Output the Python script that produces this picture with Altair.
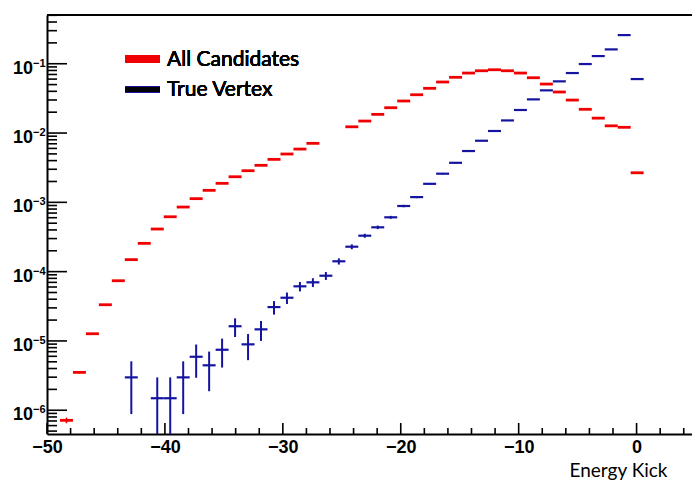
import altair as alt
import pandas as pd

# ---------------- data ----------------
# histogram bins (width 1.1, 50 bins over [-50, 5]); centres of bins 1..45
bin_centers = [-48.35, -47.25, -46.15, -45.05, -43.95, -42.85, -41.75, -40.65, -39.55, -38.45,
               -37.35, -36.25, -35.15, -34.05, -32.95, -31.85, -30.75, -29.65, -28.55, -27.45,
               -26.35, -25.25, -24.15, -23.05, -21.95, -20.85, -19.75, -18.65, -17.55, -16.45,
               -15.35, -14.25, -13.15, -12.05, -10.95, -9.85, -8.75, -7.65, -6.55, -5.45,
               -4.35, -3.25, -2.15, -1.05, 0.05]
bin_width = 1.1

all_candidates = [7.15e-7, 3.52e-6, 1.27e-5, 3.33e-5, 7.39e-5, 1.49e-4, 2.56e-4, 4.12e-4, 6.19e-4, 8.55e-4,
                  1.13e-3, 1.49e-3, 1.88e-3, 2.34e-3, 2.86e-3, 3.42e-3, 4.17e-3, 4.98e-3, 5.87e-3, 7.10e-3,
                  None, None, 1.23e-2, 1.49e-2, 1.86e-2, 2.32e-2, 2.90e-2, 3.57e-2, 4.42e-2, 5.45e-2,
                  6.37e-2, 7.34e-2, 7.92e-2, 8.19e-2, 7.92e-2, 7.34e-2, 6.28e-2, 5.09e-2, 3.91e-2, 2.99e-2,
                  2.20e-2, 1.64e-2, 1.27e-2, 1.21e-2, 2.67e-3]
all_candidates_err = [6.7e-8, 1.5e-7, 2.8e-7, 4.6e-7, 6.8e-7, 9.7e-7, 1.27e-6, 1.6e-6, 2.0e-6, 2.3e-6,
                      2.7e-6, 3.1e-6, 3.4e-6, 3.8e-6, 4.2e-6, 4.6e-6, 5.1e-6, 5.6e-6, 6.1e-6, 6.7e-6,
                      None, None, 8.8e-6, 9.7e-6, 1.08e-5, 1.2e-5, 1.35e-5, 1.5e-5, 1.67e-5, 1.85e-5,
                      2.0e-5, 2.15e-5, 2.23e-5, 2.27e-5, 2.23e-5, 2.15e-5, 1.99e-5, 1.79e-5, 1.57e-5, 1.37e-5,
                      1.18e-5, 1.02e-5, 8.9e-6, 8.7e-6, 4.1e-6]

true_vertex = [None, None, None, None, None, 2.98e-6, None, 1.49e-6, 1.49e-6, 2.98e-6,
               5.91e-6, 4.45e-6, 7.46e-6, 1.63e-5, 8.93e-6, 1.47e-5, 3.08e-5, 4.20e-5, 6.14e-5, 7.01e-5,
               8.73e-5, 1.41e-4, 2.29e-4, 3.30e-4, 4.36e-4, 6.08e-4, 8.85e-4, 1.19e-3, 1.85e-3, 2.59e-3,
               3.72e-3, 5.50e-3, 7.74e-3, 1.07e-2, 1.52e-2, 2.15e-2, 3.06e-2, 4.13e-2, 5.57e-2, 7.34e-2,
               9.90e-2, 0.129, 0.161, 0.259, 6.01e-2]
true_vertex_err = [None, None, None, None, None, 2.1e-6, None, 1.49e-6, 1.49e-6, 2.1e-6,
                   2.97e-6, 2.57e-6, 3.33e-6, 4.9e-6, 3.65e-6, 4.7e-6, 6.8e-6, 7.9e-6, 9.6e-6, 1.02e-5,
                   1.14e-5, 1.45e-5, 1.85e-5, 2.2e-5, 2.55e-5, 3.0e-5, 3.6e-5, 4.2e-5, 5.2e-5, 6.2e-5,
                   7.4e-5, 9.0e-5, 1.07e-4, 1.26e-4, 1.5e-4, 1.8e-4, 2.1e-4, 2.5e-4, 2.9e-4, 3.3e-4,
                   3.8e-4, 4.4e-4, 4.9e-4, 6.2e-4, 3.0e-4]

x_major = [-50, -40, -30, -20, -10, 0]
x_minor = [-48, -46, -44, -42, -38, -36, -34, -32, -28, -26, -24, -22, -18, -16, -14, -12,
           -8, -6, -4, -2, 2, 4]
y_decades = [1e-6, 1e-5, 1e-4, 1e-3, 1e-2, 1e-1]
y_exponents = ["\u22126", "\u22125", "\u22124", "\u22123", "\u22122", "\u22121"]
y_minor = [m * d for d in [1e-7, 1e-6, 1e-5, 1e-4, 1e-3, 1e-2, 1e-1] for m in range(2, 10)
           if 4.6e-7 < m * d <= 0.5]

series_names = ["All Candidates", "True Vertex"]
red = "#f00000"
blue = "#1414a0"

X_DOMAIN = [-50, 4.7]
Y_DOMAIN = [4.54e-7, 0.505]
W, H = 645, 419
NUM_FONT = "Liberation Sans Narrow, Liberation Sans, Arial, sans-serif"
TXT_FONT = "Lato, Open Sans, sans-serif"

xs = alt.Scale(domain=X_DOMAIN, nice=False, zero=False)
ys = alt.Scale(type="log", domain=Y_DOMAIN, nice=False)
xaxis = alt.Axis(values=x_major, ticks=False, grid=False, domain=True, domainColor="black",
                 domainWidth=2, labelFont=NUM_FONT, labelFontSize=18, labelFontWeight="bold",
                 labelColor="black", labelPadding=4, labelOverlap=False, labelFlush=False,
                 title="Energy Kick", titleFont=TXT_FONT, titleFontSize=19, titleFontWeight="normal",
                 titleColor="black", titleAnchor="end", titleAlign="right", titleX=620, titleY=36,
                 titleBaseline="middle")
yaxis = alt.Axis(ticks=False, labels=False, grid=False, domain=True, domainColor="black",
                 domainWidth=2, title=None)


def X(f):
    return alt.X(f, type="quantitative", scale=xs, axis=xaxis)


def Y(f):
    return alt.Y(f, type="quantitative", scale=ys, axis=yaxis)


def series_df(vals, errs):
    rows = []
    for c, v, e in zip(bin_centers, vals, errs):
        if v is None:
            continue
        rows.append(dict(c=c, lo=c - bin_width / 2, hi=c + bin_width / 2, v=v,
                         elo=max(v - e, 1e-9), ehi=v + e))
    return pd.DataFrame(rows)


red_df = series_df(all_candidates, all_candidates_err)
blue_df = series_df(true_vertex, true_vertex_err)

layers = []
for df, col, sw, ew in [(red_df, red, 2.8, 1.5), (blue_df, blue, 2.2, 2.0)]:
    layers.append(alt.Chart(df).mark_rule(color=col, strokeWidth=sw, clip=True).encode(
        x=X("lo"), x2="hi", y=Y("v")))
    layers.append(alt.Chart(df).mark_rule(color=col, strokeWidth=ew, clip=True).encode(
        x=X("c"), y=Y("elo"), y2="ehi"))

# inward ticks (ROOT style)
ymaj = pd.DataFrame({"v": y_decades, "e": y_exponents})
ymin = pd.DataFrame({"v": y_minor})
xmaj = pd.DataFrame({"v": x_major})
xmin = pd.DataFrame({"v": x_minor})
layers.append(alt.Chart(ymaj).mark_rule(color="black", strokeWidth=1.6).encode(
    y=Y("v"), x=alt.value(0), x2=alt.value(20)))
layers.append(alt.Chart(ymin).mark_rule(color="black", strokeWidth=1.6).encode(
    y=Y("v"), x=alt.value(0), x2=alt.value(10)))
layers.append(alt.Chart(xmaj).mark_rule(color="black", strokeWidth=1.6).encode(
    x=X("v"), y=alt.value(H), y2=alt.value(H - 11)))
layers.append(alt.Chart(xmin).mark_rule(color="black", strokeWidth=1.6).encode(
    x=X("v"), y=alt.value(H), y2=alt.value(H - 6)))
# y labels 10^{e}
layers.append(alt.Chart(ymaj).mark_text(align="right", baseline="alphabetic", dy=10, font=NUM_FONT,
                                        fontSize=18, fontWeight="bold", color="black").encode(
    y=Y("v"), x=alt.value(-14), text=alt.value("10")))
layers.append(alt.Chart(ymaj).mark_text(align="left", baseline="alphabetic", dy=3, font=NUM_FONT,
                                        fontSize=11, fontWeight="bold", color="black").encode(
    y=Y("v"), x=alt.value(-14), text="e:N"))
# top frame line
layers.append(alt.Chart(xmaj).mark_rule(color="black", strokeWidth=2).encode(
    x=alt.value(0), x2=alt.value(W), y=alt.value(0)))

# legend
layers.append(alt.Chart(xmaj).mark_rule(color=red, strokeWidth=7).encode(
    x=alt.value(78), x2=alt.value(113), y=alt.value(44)))
layers.append(alt.Chart(xmaj).mark_rule(color=blue, strokeWidth=7).encode(
    x=alt.value(78), x2=alt.value(113), y=alt.value(74.5)))
layers.append(alt.Chart(xmaj).mark_rule(color="black", strokeWidth=4).encode(
    x=alt.value(78.5), x2=alt.value(112.5), y=alt.value(74.5)))
layers.append(alt.Chart(xmaj).mark_text(align="left", baseline="middle", font=TXT_FONT, fontSize=21,
                                        color="black", text=series_names[0]).encode(
    x=alt.value(120), y=alt.value(45)))
layers.append(alt.Chart(xmaj).mark_text(align="left", baseline="middle", font=TXT_FONT, fontSize=21,
                                        color="black", text=series_names[1]).encode(
    x=alt.value(120), y=alt.value(75)))

chart = alt.layer(*layers).properties(
    width=W, height=H, background="white",
    autosize=alt.AutoSizeParams(type="none"),
    padding={"left": 47, "top": 15, "right": 0, "bottom": 46},
).configure_view(stroke=None)

chart.save("out.html", embed_options={"renderer": "svg", "actions": False})
